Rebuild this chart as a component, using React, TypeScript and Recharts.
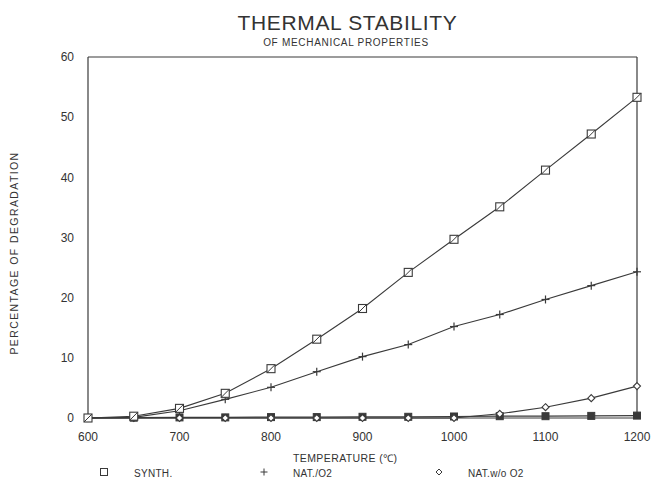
import React from 'react';
import { ComposedChart, Line, XAxis, YAxis, ReferenceLine } from 'recharts';

const temperatures = [600, 650, 700, 750, 800, 850, 900, 950, 1000, 1050, 1100, 1150, 1200];
const synth = [0, 0.3, 1.6, 4.1, 8.2, 13.1, 18.2, 24.2, 29.7, 35.1, 41.2, 47.2, 53.3];
const natO2 = [0, 0.1, 1.2, 3.1, 5.1, 7.7, 10.2, 12.2, 15.2, 17.2, 19.7, 22.0, 24.3];
const natWoO2 = [0, 0, 0, 0, 0, 0, 0, 0, 0, 0.7, 1.8, 3.3, 5.3];
const baseline = [0, 0.05, 0.1, 0.1, 0.15, 0.15, 0.2, 0.2, 0.25, 0.3, 0.3, 0.35, 0.4];
const xTicks = [600, 700, 800, 900, 1000, 1100, 1200];
const yTicks = [0, 10, 20, 30, 40, 50, 60];

const data = temperatures.map((t, i) => ({
  t,
  synth: synth[i],
  natO2: natO2[i],
  natWoO2: natWoO2[i],
  baseline: baseline[i],
}));

const INK = '#3a3a3a';
const TXT = '#333';
const FONT = '"Liberation Sans", Arial, sans-serif';

const SquareDot = (p: any) => {
  const { cx, cy } = p;
  if (cx == null || cy == null) return null;
  const s = 4;
  return (
    <g>
      <rect x={cx - s} y={cy - s} width={2 * s} height={2 * s} fill="#fff" stroke={INK} strokeWidth={1.1} />
      <line x1={cx - s} y1={cy + s} x2={cx + s} y2={cy - s} stroke={INK} strokeWidth={1} />
    </g>
  );
};
const PlusDot = (p: any) => {
  const { cx, cy } = p;
  if (cx == null || cy == null) return null;
  const s = 4;
  return (
    <g>
      <line x1={cx - s} y1={cy} x2={cx + s} y2={cy} stroke={INK} strokeWidth={1.2} />
      <line x1={cx} y1={cy - s} x2={cx} y2={cy + s} stroke={INK} strokeWidth={1.2} />
    </g>
  );
};
const DiamondDot = (p: any) => {
  const { cx, cy } = p;
  if (cx == null || cy == null) return null;
  const s = 3.5;
  return (
    <path d={`M${cx},${cy - s}L${cx + s},${cy}L${cx},${cy + s}L${cx - s},${cy}Z`} fill="#fff" stroke={INK} strokeWidth={1.1} />
  );
};
const FilledDot = (p: any) => {
  const { cx, cy } = p;
  if (cx == null || cy == null) return null;
  const s = 3.5;
  return <rect x={cx - s} y={cy - s} width={2 * s} height={2 * s} fill={INK} stroke={INK} />;
};

export default function App() {
  return (
    <div style={{ position: 'absolute', left: 0, top: 0, width: 663, height: 483, background: '#fff', fontFamily: FONT }}>
      <ComposedChart width={663} height={483} data={data} margin={{ top: 57, right: 26, bottom: 40, left: 28 }}>
        <XAxis
          dataKey="t"
          type="number"
          domain={[600, 1200]}
          ticks={xTicks}
          tickLine={false}
          axisLine={{ stroke: INK, strokeWidth: 1.2 }}
          height={25}
          tick={{ fill: TXT, fontSize: 12, fontFamily: FONT }}
          tickMargin={8}
        />
        <YAxis
          type="number"
          domain={[0, 60]}
          ticks={yTicks}
          tickLine={false}
          axisLine={{ stroke: INK, strokeWidth: 1.2 }}
          width={60}
          tick={{ fill: TXT, fontSize: 12, fontFamily: FONT }}
          tickMargin={8}
        />
        <ReferenceLine y={60} stroke={INK} strokeWidth={1.2} />
        <ReferenceLine x={1200} stroke={INK} strokeWidth={1.2} />
        <Line dataKey="baseline" stroke={INK} strokeWidth={1.2} dot={<FilledDot />} isAnimationActive={false} />
        <Line dataKey="natWoO2" stroke={INK} strokeWidth={1.1} dot={<DiamondDot />} isAnimationActive={false} />
        <Line dataKey="natO2" stroke={INK} strokeWidth={1.1} dot={<PlusDot />} isAnimationActive={false} />
        <Line dataKey="synth" stroke={INK} strokeWidth={1.1} dot={<SquareDot />} isAnimationActive={false} />
      </ComposedChart>
      <svg style={{ position: 'absolute', left: 0, top: 0, pointerEvents: 'none' }} width={663} height={483}>
        <text x={347.5} y={30} textAnchor="middle" fontSize={21} letterSpacing={0.65} fill={TXT} fontFamily={FONT}>
          THERMAL STABILITY
        </text>
        <text x={346} y={46} textAnchor="middle" fontSize={10} letterSpacing={0.7} fill={TXT} fontFamily={FONT}>
          OF MECHANICAL PROPERTIES
        </text>
        <text
          x={0}
          y={0}
          transform="translate(18,253) rotate(-90)"
          textAnchor="middle"
          fontSize={10.5}
          letterSpacing={1.4}
          fill={TXT}
          fontFamily={FONT}
        >
          PERCENTAGE OF DEGRADATION
        </text>
        <text x={293} y={462} fontSize={10.5} letterSpacing={0.4} fill={TXT} fontFamily={FONT}>TEMPERATURE (℃)</text>
        <rect x={100.5} y={468.5} width={7} height={7} fill="none" stroke={INK} strokeWidth={1} />
        <text x={134} y={477} fontSize={10} letterSpacing={0.3} fill={TXT} fontFamily={FONT}>SYNTH.</text>
        <line x1={260.5} y1={472} x2={267.5} y2={472} stroke={INK} strokeWidth={1} />
        <line x1={264} y1={468.5} x2={264} y2={475.5} stroke={INK} strokeWidth={1} />
        <text x={293} y={477} fontSize={10} letterSpacing={0.3} fill={TXT} fontFamily={FONT}>NAT./O2</text>
        <path d="M439,469L442,472L439,475L436,472Z" fill="none" stroke={INK} strokeWidth={1} />
        <text x={468} y={477} fontSize={10} letterSpacing={0.3} fill={TXT} fontFamily={FONT}>NAT.w/o O2</text>
      </svg>
    </div>
  );
}
